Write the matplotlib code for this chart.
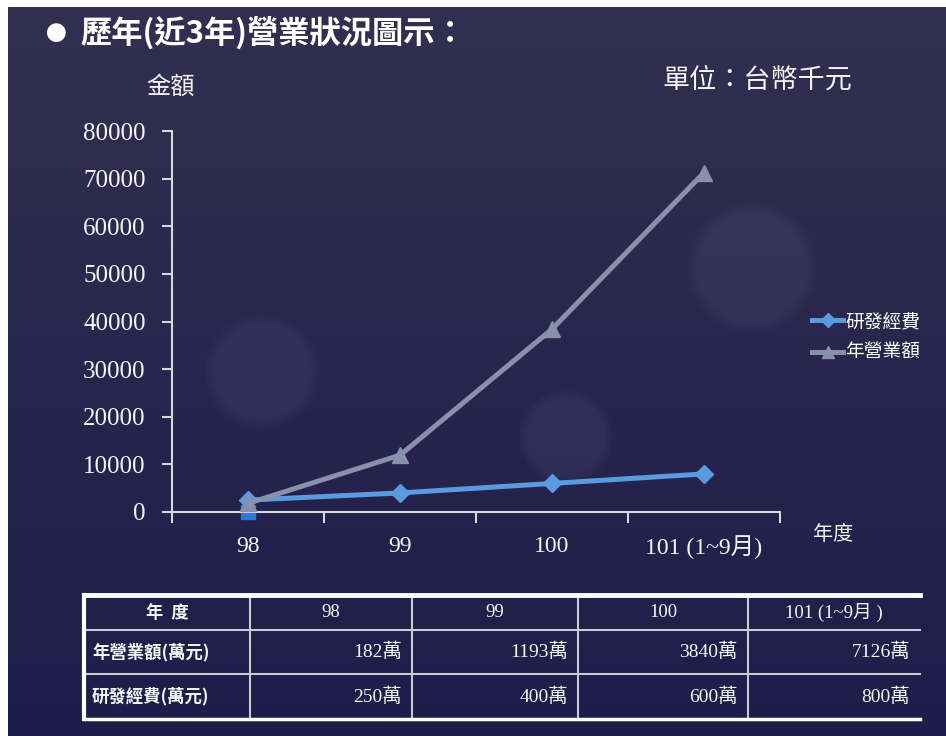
import numpy as np
import matplotlib.pyplot as plt
from matplotlib.lines import Line2D
from matplotlib.patches import Circle

# 年度 / 營業額 / 研發經費 (萬元)
years = ["98", "99", "100", "101 (1~9月)"]
revenue_wan = [182, 1193, 3840, 7126]
rd_wan = [250, 400, 600, 800]
rd_start = [0]
y_ticks = [0, 10000, 20000, 30000, 40000, 50000, 60000, 70000, 80000]

# chart is in 千元
revenue_k = [v * 10 for v in revenue_wan]
rd_k = [v * 10 for v in rd_wan]

W, H = 946, 736
SERIF = ["Liberation Serif", "Noto Sans CJK TC", "DejaVu Sans"]
CJK = ["Noto Sans CJK TC", "DejaVu Sans"]
plt.rcParams["font.family"] = SERIF

BLUE = "#5a9be0"
GRAY = "#8890ab"
SQUARE = "#2a7ad8"
AXIS = "#d6d6de"
TXT = "#f4f4f6"

fig = plt.figure(figsize=(W / 100, H / 100), dpi=100, facecolor="white")

# background panel in pixel coordinates
bg = fig.add_axes([0, 0, 1, 1], zorder=0)
t = np.linspace(0, 1, 256)[:, None, None]
top = np.array([51, 47, 80]) / 255
bot = np.array([30, 29, 74]) / 255
bg.imshow(top + (bot - top) * t, extent=(8, W, H, 7), aspect="auto",
          interpolation="bilinear")
# faint soft discs
for cx, cy, r in [(262, 372, 56), (566, 437, 46), (752, 268, 64)]:
    for k in range(10):
        bg.add_patch(Circle((cx, cy), r * (1.04 - 0.02 * k), color="white",
                            alpha=0.007, lw=0))
bg.set_xlim(0, W)
bg.set_ylim(H, 0)
bg.axis("off")

# title and axis captions
bg.text(56, 34, "●", color="white", fontsize=15, ha="center", va="center",
        family=CJK)
bg.text(80, 34, "歷年(近3年)營業狀況圖示：", color="white", fontsize=22.5,
        fontweight="bold", ha="left", va="center", family=CJK)
bg.text(171, 87, "金額", color=TXT, fontsize=17.5, ha="center", va="center",
        family=CJK)
bg.text(662, 80, "單位：台幣千元", color=TXT, fontsize=19.5, ha="left",
        va="center", family=CJK)
bg.text(833, 535, "年度", color=TXT, fontsize=14.5, ha="center",
        va="center", family=CJK)

# line chart
ax = fig.add_axes([172 / W, 224 / H, 608 / W, 381 / H], zorder=2)
ax.patch.set_alpha(0)
x = np.arange(len(years))
ax.plot(x[:1], rd_start, marker="s", ms=10, color=SQUARE, ls="none",
        clip_on=False, zorder=2)
ax.plot(x, rd_k, color=BLUE, lw=3.6, marker="D", ms=9, zorder=3,
        clip_on=False)
ax.plot(x, revenue_k, color=GRAY, lw=3.6, marker="^", ms=12, zorder=4,
        clip_on=False)

ax.set_xlim(-0.5, len(years) - 0.5)
ax.set_ylim(0, 80000)
for side in ["top", "right"]:
    ax.spines[side].set_visible(False)
for side in ["left", "bottom"]:
    ax.spines[side].set_color(AXIS)
    ax.spines[side].set_linewidth(1.5)

ax.set_yticks(y_ticks)
ax.set_yticklabels([str(v) for v in y_ticks])
ax.tick_params(axis="y", length=7, width=1.5, color=AXIS, labelsize=18,
               labelcolor=TXT, pad=12)
ax.set_xticks(np.arange(len(years) + 1) - 0.5)
ax.set_xticklabels([])
ax.tick_params(axis="x", which="major", length=8, width=1.5, color=AXIS)
ax.set_xticks(x, minor=True)
ax.set_xticklabels(years, minor=True)
ax.tick_params(axis="x", which="minor", length=0, labelsize=17,
               labelcolor=TXT, pad=17)

handles = [
    Line2D([], [], color=BLUE, lw=3.6, marker="D", ms=7),
    Line2D([], [], color=GRAY, lw=3.6, marker="^", ms=8),
]
ax.legend(handles, ["研發經費", "年營業額"], loc="center left",
          bbox_to_anchor=(803, 337), bbox_transform=bg.transData,
          frameon=False, prop={"family": CJK, "size": 13.5},
          labelcolor="white", handlelength=1.65, handletextpad=0.1,
          labelspacing=0.55, borderpad=0)

# summary table
col_x = [84, 250, 412, 578, 748, 920]
row_y = [595, 630, 674, 719]
thin = dict(color="#c9c9d2", lw=1.5)
for cx in col_x[1:-1]:
    bg.plot([cx, cx], [row_y[0], row_y[-1]], **thin)
for ry in row_y[1:-1]:
    bg.plot([col_x[0], col_x[-1]], [ry, ry], **thin)
bg.plot([col_x[0], col_x[-1]], [row_y[0], row_y[0]], color="white", lw=3.5)
bg.plot([col_x[0], col_x[-1]], [row_y[-1], row_y[-1]], color="white", lw=2.5)
bg.plot([col_x[0], col_x[0]], [row_y[0], row_y[-1]], color="white", lw=3)

row_mid = [(row_y[i] + row_y[i + 1]) / 2 for i in range(3)]
bg.text((col_x[0] + col_x[1]) / 2, row_mid[0], "年  度", color=TXT,
        fontsize=12.5, ha="center", va="center", family=CJK,
        fontweight="bold")
for i, yr in enumerate(years):
    bg.text((col_x[i + 1] + col_x[i + 2]) / 2, row_mid[0],
            yr.replace(")", " )"), color=TXT, fontsize=13.5,
            ha="center", va="center")

rows = [("年營業額(萬元)", revenue_wan), ("研發經費(萬元)", rd_wan)]
for r, (label, vals) in enumerate(rows):
    ym = row_mid[r + 1]
    bg.text(col_x[0] + 8, ym, label, color=TXT, fontsize=12.5, ha="left",
            va="center", family=CJK, fontweight="bold")
    for i, v in enumerate(vals):
        bg.text(col_x[i + 2] - 10, ym, f"{v}萬", color=TXT, fontsize=14,
                ha="right", va="center")

fig.savefig("out.png", dpi=100, facecolor=fig.get_facecolor())
